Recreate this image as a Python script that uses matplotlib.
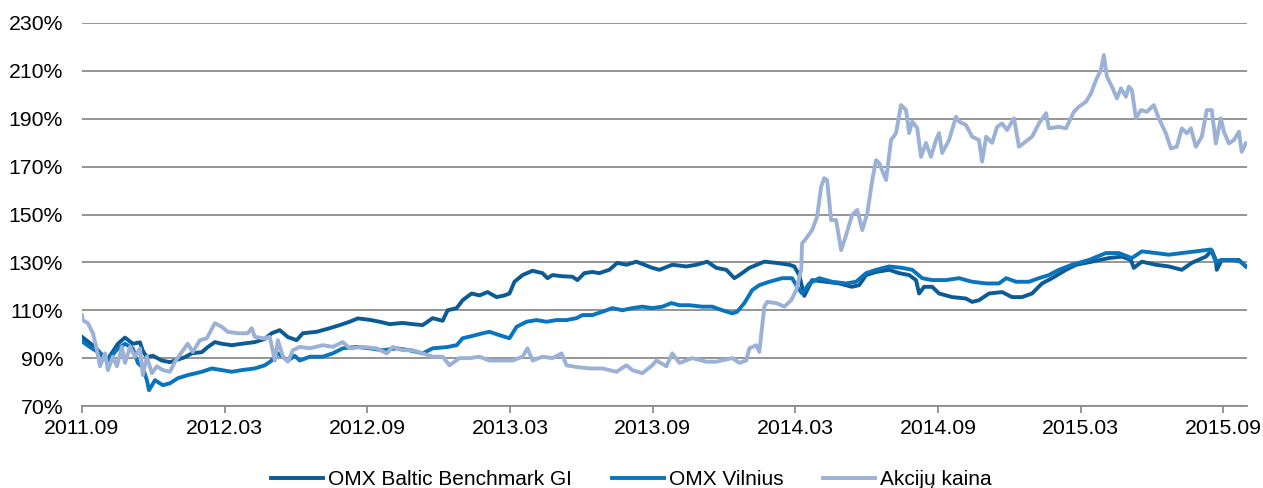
import matplotlib.pyplot as plt

plt.rcParams['font.family'] = ['Liberation Sans', 'DejaVu Sans']

# x = months since 2011.09, y = % of starting level
baltic_m = [0.0, 0.55, 1.05, 1.51, 1.81, 2.14, 2.44, 2.56, 2.73, 2.98, 3.36, 3.70, 3.91, 4.33, 4.62,
            5.04, 5.29, 5.59, 5.88, 6.30, 6.72, 7.27, 7.69, 7.98, 8.32, 8.66, 9.03, 9.29, 9.87, 10.42,
            10.84, 11.26, 11.60, 12.10, 12.52, 12.94, 13.49, 13.91, 14.33, 14.75, 15.17, 15.38, 15.76,
            16.01, 16.39, 16.72, 17.06, 17.44, 17.77, 17.98, 18.19, 18.53, 18.95, 19.37, 19.58, 19.79,
            20.21, 20.63, 20.84, 21.13, 21.47, 21.76, 22.18, 22.52, 22.90, 23.32, 23.66, 23.99, 24.29,
            24.83, 25.42, 25.84, 26.30, 26.68, 27.10, 27.44, 27.65, 28.07, 28.70, 29.20, 29.75, 29.96,
            30.17, 30.38, 30.71, 31.30, 31.85, 32.39, 32.69, 32.98, 33.40, 33.95, 34.37, 34.79, 35.08,
            35.21, 35.42, 35.76, 36.05, 36.60, 37.18, 37.44, 37.73, 38.15, 38.70, 39.12, 39.54, 39.96,
            40.38, 40.80, 41.39, 41.81, 42.48, 43.19, 43.74, 44.12, 44.24, 44.58, 45.17, 45.71, 46.26,
            46.68, 47.27, 47.52, 47.69, 47.73, 47.94, 48.36, 48.66, 48.95]
baltic_v = [98.9, 94.6, 89, 96, 98.6, 96, 96.6, 93, 90.4, 91, 89, 88.3, 89, 90.4, 92,
            92.5, 94.6, 96.7, 96, 95.4, 96, 96.7, 98, 100.4, 101.7, 98.8, 97.5, 100.4, 101, 102.5,
            103.8, 105.2, 106.6, 106, 105.2, 104.2, 104.7, 104.2, 103.8, 106.7, 105.6, 110, 110.9,
            114.2, 117, 116.2, 117.6, 115.5, 116.2, 117, 121.9, 124.7, 126.5, 125.5, 123.4, 124.7,
            124.2, 124, 122.6, 125.5, 126, 125.5, 126.9, 129.8, 129, 130.3, 129, 127.7, 126.9,
            129, 128.3, 129, 130.3, 127.7, 126.9, 123.4, 124.7, 127.7, 130.3, 129.8, 129, 128.3,
            124.7, 116, 122.6, 121.9, 121.2, 119.8, 120.5, 124.7, 126, 126.9, 125.5, 124.7, 122.6,
            117, 119.8, 119.8, 117, 115.5, 114.9, 113.5, 114.2, 117, 117.6, 115.5, 115.5, 117,
            121.2, 123.4, 126.9, 129, 130.3, 131.8, 132.4, 131, 127.7, 130.3, 129, 128.3, 126.9,
            129.8, 132.4, 135, 131, 126.9, 131, 131, 131, 128.3]

vilnius_m = [0.0, 0.34, 0.76, 1.09, 1.51, 1.81, 2.14, 2.35, 2.56, 2.73, 2.82, 3.07, 3.40, 3.70, 4.03,
             4.45, 5.04, 5.46, 5.88, 6.30, 6.72, 7.27, 7.69, 7.98, 8.24, 8.66, 8.95, 9.16, 9.58, 10.13,
             10.55, 10.97, 11.55, 12.10, 12.65, 13.24, 13.78, 14.33, 14.75, 15.34, 15.76, 16.01, 16.39,
             16.85, 17.14, 17.56, 17.98, 18.28, 18.70, 19.12, 19.54, 19.96, 20.38, 20.80, 21.05, 21.47,
             21.89, 22.31, 22.73, 23.15, 23.57, 23.99, 24.41, 24.79, 25.13, 25.55, 26.09, 26.51, 26.93,
             27.35, 27.56, 27.86, 28.19, 28.49, 28.91, 29.45, 29.87, 30.08, 30.29, 30.59, 31.01, 31.55,
             32.14, 32.56, 32.98, 33.40, 33.95, 34.50, 34.92, 35.34, 35.76, 36.34, 36.89, 37.44, 38.03,
             38.57, 38.87, 39.29, 39.83, 40.25, 40.67, 41.09, 41.64, 42.35, 43.07, 43.61, 44.16, 44.58,
             45.17, 45.71, 46.26, 46.85, 47.48, 47.69, 47.94, 48.36, 48.74, 48.95]
vilnius_v = [97, 94.6, 92, 89, 94, 96, 94, 88, 86, 80.8, 76.6, 80.8, 78.7, 79.5, 81.6,
             82.9, 84.3, 85.7, 85, 84.3, 85, 85.7, 87, 89, 92, 89, 91, 89, 90.6, 90.6,
             92, 94.1, 94.7, 94.1, 93.3, 94.1, 93.3, 92, 94.1, 94.6, 95.4, 98.3, 99.2,
             100.4, 101, 99.6, 98.3, 103.1, 105.2, 105.9, 105.2, 105.9, 105.9, 106.7, 108, 108,
             109.4, 110.9, 110, 110.9, 111.5, 110.9, 111.5, 113, 112.1, 112.1, 111.5, 111.5, 110,
             108.7, 109.4, 113, 118.4, 120.5, 121.9, 123.4, 123.4, 119.8, 117, 121.2, 123.4, 121.9,
             121.2, 121.9, 125.5, 126.9, 128.3, 127.7, 126.9, 123.4, 122.6, 122.6, 123.4, 121.9, 121.2,
             121.2, 123.4, 121.9, 121.9, 123.4, 124.7, 126.9, 129, 131, 133.9, 133.9, 131.8, 134.6,
             133.9, 133.2, 133.9, 134.6, 135.4, 130.3, 131, 131, 130.3, 128.3]

akcijos_m = [0.0, 0.04, 0.25, 0.46, 0.63, 0.76, 0.97, 1.09, 1.30, 1.47, 1.68, 1.81, 2.02, 2.23, 2.44,
             2.56, 2.73, 2.94, 3.15, 3.40, 3.70, 3.91, 4.20, 4.45, 4.66, 4.96, 5.25, 5.59, 5.88, 6.13,
             6.55, 6.97, 7.14, 7.27, 7.69, 7.90, 8.11, 8.24, 8.45, 8.66, 8.87, 9.16, 9.58, 10.13, 10.55,
             10.97, 11.26, 11.81, 12.39, 12.82, 13.07, 13.49, 13.91, 14.33, 14.75, 15.17, 15.46, 15.88,
             16.30, 16.72, 17.14, 17.56, 18.11, 18.53, 18.74, 18.95, 19.37, 19.79, 20.17, 20.38, 20.80,
             21.34, 21.89, 22.48, 22.90, 23.15, 23.57, 23.99, 24.16, 24.58, 24.83, 25.13, 25.67, 26.26,
             26.68, 27.35, 27.65, 27.94, 28.07, 28.36, 28.49, 28.70, 28.82, 29.20, 29.54, 29.83, 30.04,
             30.25, 30.29, 30.46, 30.71, 30.92, 31.09, 31.22, 31.34, 31.51, 31.72, 31.93, 32.14, 32.39,
             32.61, 32.82, 33.03, 33.24, 33.40, 33.53, 33.82, 34.03, 34.24, 34.45, 34.66, 34.79, 34.92,
             35.13, 35.29, 35.50, 35.71, 35.92, 36.05, 36.18, 36.47, 36.76, 36.89, 37.18, 37.44, 37.73,
             37.86, 38.03, 38.28, 38.49, 38.70, 38.91, 39.20, 39.41, 39.71, 39.96, 40.25, 40.55, 40.67,
             41.09, 41.39, 41.72, 41.93, 42.23, 42.44, 42.65, 42.86, 42.98, 43.11, 43.32, 43.53, 43.70,
             43.91, 44.03, 44.16, 44.33, 44.54, 44.79, 45.08, 45.29, 45.59, 45.80, 46.05, 46.26, 46.47,
             46.64, 46.85, 47.10, 47.31, 47.52, 47.69, 47.90, 48.03, 48.24, 48.45, 48.66, 48.78, 48.95]
akcijos_v = [107.9, 105.8, 104.6, 100.4, 93.3, 86.6, 92, 85, 90.6, 86.6, 94.7, 88, 94.7, 90.6, 94.1,
             82.9, 90.6, 83.7, 86.6, 85, 84.3, 88.5, 92.6, 96, 92.6, 97.5, 98.3, 104.6, 103.1, 101,
             100.4, 100.4, 102.5, 98.9, 98.2, 98.9, 89, 97.5, 90.6, 88.5, 93.3, 94.7, 94.1, 95.4, 94.7,
             96.7, 94.1, 94.7, 94.1, 92, 94.7, 93.3, 93.3, 92, 90.6, 90.6, 87, 90,
             90, 90.6, 89, 89, 89, 90.6, 94.1, 89, 90.6, 90, 92, 87, 86.3,
             85.7, 85.7, 84.3, 87, 85, 83.7, 87, 89, 86.6, 92, 88, 90, 88.5,
             88.5, 90, 88, 89, 94.1, 95.4, 92.6, 111.5, 113.5, 113, 111.5, 114.2, 118.4,
             126.9, 138, 140, 143.5, 149.1, 161.6, 165.2, 164.4, 147.7, 147.7, 135.1, 141.4, 149.8,
             151.9, 143.5, 150.5, 164.4, 172.7, 171.5, 164.4, 181.1, 184, 195.7, 193.6, 184, 188.8,
             186.1, 174.1, 179.9, 174.1, 181.1, 184, 175.7, 181.1, 190.8, 188.8, 187.4, 182.5, 181.1,
             172.1, 182.5, 179.9, 186.6, 188, 185.3, 190.2, 178.3, 180.6, 182.5, 188, 192.3, 186,
             186.6, 186, 192.9, 195, 197.1, 200.6, 206.2, 210.4, 216.6, 207.6, 203.4, 198.5, 202.7,
             199.2, 203.4, 202, 190.2, 193.6, 192.9, 195.7, 190.2, 183.9, 177.6, 178.3, 186, 183.9,
             186, 178.3, 182.5, 193.6, 193.6, 179.7, 190.2, 184.6, 179.7, 181.1, 184.6, 176.2, 179.7]

tick_months = [0, 6, 12, 18, 24, 30, 36, 42, 48]
tick_labels = ['2011.09', '2012.03', '2012.09', '2013.03', '2013.09',
               '2014.03', '2014.09', '2015.03', '2015.09']
y_ticks = list(range(70, 231, 20))

fig = plt.figure(figsize=(12.63, 4.88), dpi=100)
ax = fig.add_axes([0.0649, 0.168, 0.9224, 0.7849])

ax.plot(baltic_m, baltic_v, color='#0d5b94', lw=2.8, label='OMX Baltic Benchmark GI')
ax.plot(vilnius_m, vilnius_v, color='#0a74bd', lw=2.8, label='OMX Vilnius')
ax.plot(akcijos_m, akcijos_v, color='#9cb1d6', lw=2.8, label='Akcijų kaina')

ax.set_xlim(0, 49)
ax.set_ylim(70, 230)
ax.set_yticks(y_ticks)
ax.set_yticklabels([f'{v}%' for v in y_ticks])
ax.set_xticks(tick_months)
ax.set_xticklabels(tick_labels)

ax.grid(axis='y', color='#8c8c8c', lw=1.3)
ax.set_axisbelow(True)
for s in ['left', 'right', 'top']:
    ax.spines[s].set_visible(False)
ax.spines['bottom'].set_color('#8c8c8c')
ax.spines['bottom'].set_linewidth(1.3)
ax.tick_params(axis='y', length=0, pad=13.5, labelsize=15.3)
ax.tick_params(axis='x', direction='out', length=5, width=1.3, color='#8c8c8c', pad=4, labelsize=15.3)

fig.legend(loc='center', bbox_to_anchor=(0.5, 0.0164), ncol=3, frameon=False,
           fontsize=15, handlelength=2.5, columnspacing=1.9, handletextpad=0.24,
           borderpad=0, borderaxespad=0)

fig.savefig('out.png', dpi=100)
